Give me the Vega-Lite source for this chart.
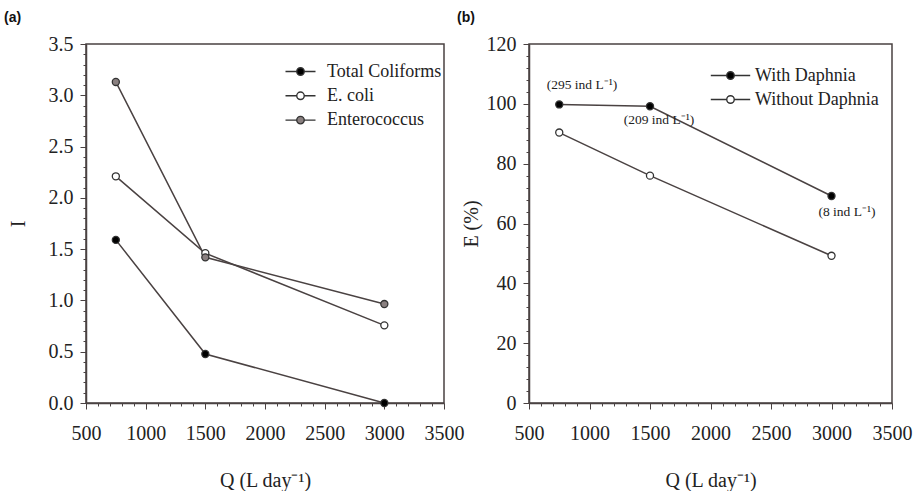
{
  "$schema": "https://vega.github.io/schema/vega-lite/v6.json",
  "background": "white",
  "padding": {"left": 3, "top": 10, "right": 0, "bottom": 0},
  "spacing": -9,
  "datasets": {
    "a": [
      {"Q": 750, "I": 1.59, "series": "Total Coliforms"},
      {"Q": 1500, "I": 0.478, "series": "Total Coliforms"},
      {"Q": 3000, "I": 0.0, "series": "Total Coliforms"},
      {"Q": 750, "I": 2.21, "series": "E. coli"},
      {"Q": 1500, "I": 1.46, "series": "E. coli"},
      {"Q": 3000, "I": 0.757, "series": "E. coli"},
      {"Q": 750, "I": 3.13, "series": "Enterococcus"},
      {"Q": 1500, "I": 1.42, "series": "Enterococcus"},
      {"Q": 3000, "I": 0.965, "series": "Enterococcus"}
    ],
    "b": [
      {"Q": 750, "E": 99.8, "series": "With Daphnia"},
      {"Q": 1500, "E": 99.2, "series": "With Daphnia"},
      {"Q": 3000, "E": 69.2, "series": "With Daphnia"},
      {"Q": 750, "E": 90.4, "series": "Without Daphnia"},
      {"Q": 1500, "E": 76.0, "series": "Without Daphnia"},
      {"Q": 3000, "E": 49.2, "series": "Without Daphnia"}
    ],
    "notes": [
      {"Q": 938, "E": 106.3, "label": "(295 ind L⁻¹)"},
      {"Q": 1574, "E": 94.6, "label": "(209 ind L⁻¹)"},
      {"Q": 3128, "E": 63.8, "label": "(8 ind L⁻¹)"}
    ]
  },
  "resolve": {"scale": {"fill": "independent", "x": "independent", "y": "independent"}, "legend": {"fill": "independent"}},
  "hconcat": [
    {
      "width": 358,
      "height": 359,
      "title": {"text": "(a)", "anchor": "start", "font": "Liberation Sans", "fontSize": 14, "fontWeight": "bold", "color": "#111", "offset": 9, "dx": -4},
      "data": {"name": "a"},
      "layer": [
        {
          "mark": {"type": "line", "color": "#4a4242", "strokeWidth": 1.5},
          "encoding": {
            "x": {"field": "Q", "type": "quantitative"},
            "y": {"field": "I", "type": "quantitative"},
            "detail": {"field": "series"}
          }
        },
        {
          "mark": {"type": "point", "filled": false, "stroke": "#333", "strokeWidth": 1.3, "size": 50, "opacity": 1},
          "encoding": {
            "x": {
              "field": "Q", "type": "quantitative",
              "scale": {"domain": [500, 3500], "nice": false, "zero": false},
              "axis": {
                "title": "Q (L day⁻¹)",
                "labelOverlap": false,
                "tickCount": 100,
                "values": [500,600,700,800,900,1000,1100,1200,1300,1400,1500,1600,1700,1800,1900,2000,2100,2200,2300,2400,2500,2600,2700,2800,2900,3000,3100,3200,3300,3400,3500],
                "labelExpr": "datum.value % 500 === 0 ? datum.label : ''",
                "format": "d",
                "tickSize": {"condition": {"test": "datum.value % 500 === 0", "value": 6}, "value": 3}
              }
            },
            "y": {
              "field": "I", "type": "quantitative",
              "scale": {"domain": [0, 3.5], "nice": false},
              "axis": {
                "title": "I",
                "titlePadding": 20,
                "labelOverlap": false,
                "tickCount": 100,
                "values": [0,0.1,0.2,0.3,0.4,0.5,0.6,0.7,0.8,0.9,1,1.1,1.2,1.3,1.4,1.5,1.6,1.7,1.8,1.9,2,2.1,2.2,2.3,2.4,2.5,2.6,2.7,2.8,2.9,3,3.1,3.2,3.3,3.4,3.5],
                "labelExpr": "abs(datum.value*2 - round(datum.value*2)) < 0.001 ? format(datum.value, '.1f') : ''",
                "tickSize": {"condition": {"test": "abs(datum.value*2 - round(datum.value*2)) < 0.001", "value": 6}, "value": 3}
              }
            },
            "fill": {
              "field": "series", "type": "nominal",
              "scale": {"domain": ["Total Coliforms", "E. coli", "Enterococcus"], "range": ["#000000", "#ffffff", "#8a8080"]},
              "legend": {
                "title": null,
                "orient": "none",
                "legendX": 204,
                "legendY": 17,
                "symbolType": "M-1.6,0H-0.42M0.42,0H1.6M-0.4,0A0.4,0.4,0,1,1,0.4,0A0.4,0.4,0,1,1,-0.4,0Z",
                "symbolSize": 352,
                "symbolStrokeColor": "#333",
                "symbolStrokeWidth": 1.4,
                "labelOffset": 16,
                "labelFontSize": 18,
                "labelFont": "Liberation Serif",
                "labelColor": "#222",
                "rowPadding": 4.3
              }
            }
          }
        }
      ]
    },
    {
      "width": 363,
      "height": 359,
      "title": {"text": "(b)", "anchor": "start", "font": "Liberation Sans", "fontSize": 14, "fontWeight": "bold", "color": "#111", "offset": 9, "dx": -4},
      "layer": [
        {
          "data": {"name": "b"},
          "mark": {"type": "line", "color": "#4a4242", "strokeWidth": 1.5},
          "encoding": {
            "x": {"field": "Q", "type": "quantitative"},
            "y": {"field": "E", "type": "quantitative"},
            "detail": {"field": "series"}
          }
        },
        {
          "data": {"name": "b"},
          "mark": {"type": "point", "filled": false, "stroke": "#333", "strokeWidth": 1.3, "size": 50, "opacity": 1},
          "encoding": {
            "x": {
              "field": "Q", "type": "quantitative",
              "scale": {"domain": [500, 3500], "nice": false, "zero": false},
              "axis": {
                "title": "Q (L day⁻¹)",
                "labelOverlap": false,
                "tickCount": 100,
                "values": [500,600,700,800,900,1000,1100,1200,1300,1400,1500,1600,1700,1800,1900,2000,2100,2200,2300,2400,2500,2600,2700,2800,2900,3000,3100,3200,3300,3400,3500],
                "labelExpr": "datum.value % 500 === 0 ? datum.label : ''",
                "format": "d",
                "tickSize": {"condition": {"test": "datum.value % 500 === 0", "value": 6}, "value": 3}
              }
            },
            "y": {
              "field": "E", "type": "quantitative",
              "scale": {"domain": [0, 120], "nice": false},
              "axis": {
                "title": "E (%)",
                "titlePadding": 5,
                "labelOverlap": false,
                "tickCount": 100,
                "values": [0,4,8,12,16,20,24,28,32,36,40,44,48,52,56,60,64,68,72,76,80,84,88,92,96,100,104,108,112,116,120],
                "labelExpr": "datum.value % 20 === 0 ? datum.label : ''",
                "tickSize": {"condition": {"test": "datum.value % 20 === 0", "value": 6}, "value": 3}
              }
            },
            "fill": {
              "field": "series", "type": "nominal",
              "scale": {"domain": ["With Daphnia", "Without Daphnia"], "range": ["#000000", "#ffffff"]},
              "legend": {
                "title": null,
                "orient": "none",
                "legendX": 191,
                "legendY": 21,
                "symbolType": "M-2.1,0H-0.42M0.42,0H2.1M-0.4,0A0.4,0.4,0,1,1,0.4,0A0.4,0.4,0,1,1,-0.4,0Z",
                "symbolSize": 352,
                "symbolStrokeColor": "#333",
                "symbolStrokeWidth": 1.4,
                "labelOffset": 14,
                "labelFontSize": 18,
                "labelFont": "Liberation Serif",
                "labelColor": "#222",
                "rowPadding": 4
              }
            }
          }
        },
        {
          "data": {"name": "notes"},
          "mark": {"type": "text", "font": "Liberation Serif", "fontSize": 13.5, "color": "#222"},
          "encoding": {
            "x": {"field": "Q", "type": "quantitative"},
            "y": {"field": "E", "type": "quantitative"},
            "text": {"field": "label"}
          }
        }
      ]
    }
  ],
  "config": {
    "font": "Liberation Serif",
    "view": {"stroke": "#4a4242", "strokeWidth": 1.5},
    "axis": {
      "grid": false,
      "domainColor": "#4a4242",
      "domainWidth": 1.5,
      "tickColor": "#4a4242",
      "tickWidth": 1,
      "labelFont": "Liberation Serif",
      "labelFontSize": 20,
      "labelColor": "#222",
      "titleFont": "Liberation Serif",
      "titleFontSize": 20,
      "titleFontWeight": "normal",
      "titleColor": "#222",
      "labelOverlap": false,
      "labelFlush": false
    },
    "axisX": {"labelPadding": 14, "titlePadding": 27},
    "axisY": {"labelPadding": 7}
  }
}
